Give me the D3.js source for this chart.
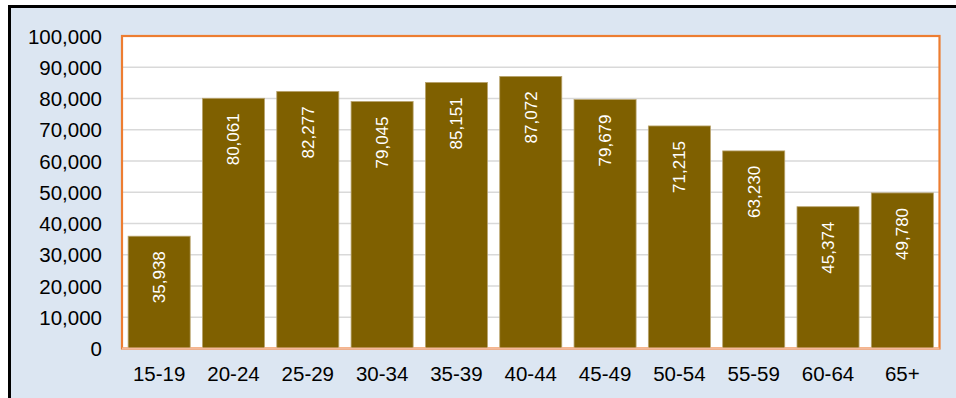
<!DOCTYPE html>
<html><head><meta charset="utf-8">
<script src="https://cdn.jsdelivr.net/npm/d3@7"></script>
<style>html,body{margin:0;padding:0;background:#fff;}svg{display:block;}</style>
</head><body>
<svg id="c" width="956" height="398"></svg>
<script>
const categories = ["15-19","20-24","25-29","30-34","35-39","40-44","45-49","50-54","55-59","60-64","65+"];
const values = [35938,80061,82277,79045,85151,87072,79679,71215,63230,45374,49780];
const yTicks = [0,10000,20000,30000,40000,50000,60000,70000,80000,90000,100000];

(function(){
const svg = d3.select("#c");
const W = 956, H = 398;
const pL = 122, pR = 939.5, pT = 36, pB = 348.5;
const font = "'Liberation Sans', Arial, sans-serif";

// outer frame
svg.append("rect").attr("x",9.5).attr("y",6.5).attr("width",W).attr("height",H)
  .attr("fill","#dce6f2").attr("stroke","#000").attr("stroke-width",3);

// plot area
svg.append("rect").attr("x",pL).attr("y",pT).attr("width",pR-pL).attr("height",pB-pT)
  .attr("fill","#fff");

const x = d3.scaleBand().domain(categories).range([pL,pR]).paddingInner(0.165).paddingOuter(0.0825);
const y = d3.scaleLinear().domain([0,100000]).range([pB,pT]);

// gridlines
svg.append("g").selectAll("line").data(yTicks.filter(d=>d>0)).join("line")
  .attr("x1",pL).attr("x2",pR).attr("y1",d=>y(d)).attr("y2",d=>y(d))
  .attr("stroke","#d9d9d9").attr("stroke-width",1.5);

// plot border
svg.append("rect").attr("x",pL).attr("y",pT).attr("width",pR-pL).attr("height",pB-pT)
  .attr("fill","none").attr("stroke","#ed7d31").attr("stroke-width",2.2);

// bars
svg.append("g").selectAll("rect").data(values).join("rect")
  .attr("x",(d,i)=>x(categories[i])).attr("width",x.bandwidth())
  .attr("y",d=>y(d)).attr("height",d=>pB-y(d))
  .attr("fill","#7f6000").attr("stroke","#b9a46e").attr("stroke-width",0.8);

// bottom axis line
svg.append("line").attr("x1",pL).attr("x2",pR).attr("y1",pB).attr("y2",pB)
  .attr("stroke","#f4b99a").attr("stroke-width",2);

// value labels
svg.append("g").selectAll("text").data(values).join("text")
  .attr("transform",(d,i)=>`translate(${x(categories[i])+x.bandwidth()/2+6},${y(d)+15}) rotate(-90)`)
  .attr("text-anchor","end").attr("fill","#fff")
  .style("font-family",font).style("font-size","17px")
  .text(d=>d3.format(",")(d));

// y axis
const yAxis = svg.append("g").attr("transform",`translate(${pL},0)`)
  .call(d3.axisLeft(y).tickValues(yTicks).tickFormat(d3.format(",")).tickSize(0).tickPadding(20));
yAxis.select(".domain").remove();
yAxis.selectAll("text").style("font-family",font).style("font-size","20.5px").attr("fill","#000").attr("dy","0.35em");

// x axis
const xAxis = svg.append("g").attr("transform",`translate(0,${pB})`)
  .call(d3.axisBottom(x).tickSize(0).tickPadding(18));
xAxis.select(".domain").remove();
xAxis.selectAll("text").style("font-family",font).style("font-size","20.5px").attr("fill","#000");
})();
</script>
</body></html>
